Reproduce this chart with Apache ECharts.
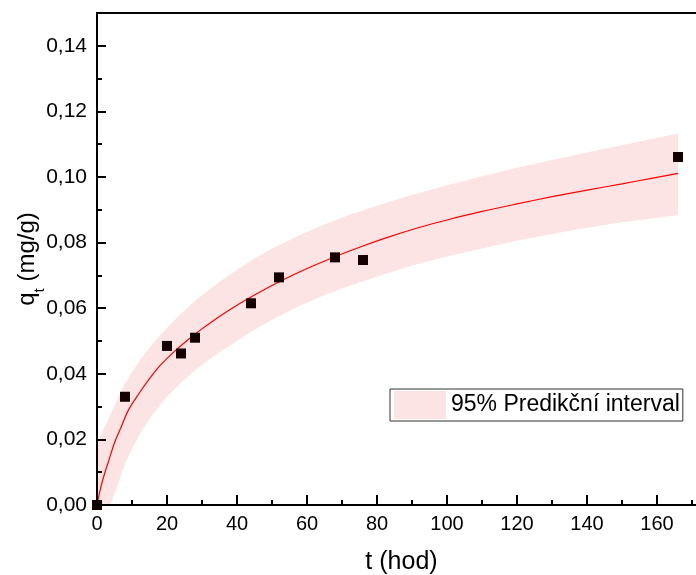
<!DOCTYPE html>
<html>
<head>
<meta charset="utf-8">
<script src="https://cdn.jsdelivr.net/npm/echarts@6/dist/echarts.min.js"></script>
<style>html,body{margin:0;padding:0;background:#fff;}#c{width:696px;height:575px;}</style>
</head>
<body>
<div id="c"></div>
<script>
// measured data points
const tData = [0, 8, 20, 24, 28, 44, 52, 68, 76, 166];
const qData = [0.0, 0.0330, 0.0485, 0.0462, 0.0510, 0.0615, 0.0694, 0.0755, 0.0747, 0.1061];

// fitted curve
const fitT = [0, 1, 2, 3.5, 5, 7, 9, 12, 15, 18, 22, 26, 30, 35, 40, 45, 50, 56, 62, 68, 75, 83, 92, 100, 110, 120, 130, 140, 150, 158, 166];
const fitQ = [0, 0.005, 0.009, 0.014, 0.019, 0.024, 0.029, 0.034, 0.0385, 0.0425, 0.0467, 0.0504, 0.0537, 0.0575, 0.0609, 0.064, 0.0669, 0.0701, 0.073, 0.0757, 0.0786, 0.0816, 0.0846, 0.0869, 0.0895, 0.0918, 0.0940, 0.0960, 0.0979, 0.0995, 0.1011];

// 95% prediction band
const bandT = [0, 2, 3.2, 4, 6, 8, 10, 13, 16, 20, 24, 28, 33, 38, 44, 50, 57, 64, 72, 81, 90, 100, 110, 120, 130, 140, 150, 158, 166];
const bandUpper = [0.0183, 0.0235, 0.026, 0.028, 0.0325, 0.037, 0.0405, 0.0452, 0.0492, 0.054, 0.0583, 0.0622, 0.0665, 0.0703, 0.0745, 0.0782, 0.0818, 0.0851, 0.0884, 0.0916, 0.0945, 0.0975, 0.1002, 0.1028, 0.1052, 0.1075, 0.1097, 0.1115, 0.1133];
const bandLower = [0, 0, 0, 0.0005, 0.0065, 0.0125, 0.0172, 0.023, 0.0278, 0.033, 0.0373, 0.0411, 0.0451, 0.0486, 0.0528, 0.0565, 0.0603, 0.0636, 0.0668, 0.0700, 0.0730, 0.0758, 0.0782, 0.0806, 0.0826, 0.0845, 0.0862, 0.0873, 0.0884];

// tick labels
const xTickLabels = ['0', '20', '40', '60', '80', '100', '120', '140', '160'];
const yTickLabels = ['0,00', '0,02', '0,04', '0,06', '0,08', '0,10', '0,12', '0,14'];

const bandName = '95% Predikční interval';
const bandColor = '#fde4e4';
const FONT = 'Liberation Sans, Arial, sans-serif';

const chart = echarts.init(document.getElementById('c'), null, {renderer: 'canvas'});

const scatterData = tData.map((t, i) => [t, qData[i]]);
const fitData = fitT.map((t, i) => [t, fitQ[i]]);

chart.setOption({
  animation: false,
  backgroundColor: '#fff',
  grid: {left: 97, top: 13, width: 609, height: 492, show: true, borderColor: '#000', borderWidth: 2,
    backgroundColor: 'transparent', containLabel: false, outerBoundsMode: 'none'},
  legend: {
    show: true,
    left: 390, top: 389,
    padding: [2, 3, 2, 4],
    itemWidth: 52, itemHeight: 28,
    borderColor: '#333', borderWidth: 1,
    backgroundColor: '#fff',
    data: [{name: bandName, icon: 'rect'}],
    textStyle: {fontSize: 23, color: '#000', fontFamily: FONT},
    selectedMode: false
  },
  xAxis: [{
    type: 'value', min: 0, max: 174, interval: 20, z: 10,
    name: 't (hod)', nameLocation: 'middle', nameGap: 45, nameMoveOverlap: false,
    nameTextStyle: {fontSize: 25, color: '#000', fontFamily: FONT},
    axisLine: {show: true, onZero: false, lineStyle: {color: '#000', width: 2}},
    axisTick: {show: true, inside: true, length: 10, lineStyle: {color: '#000', width: 2}},
    axisLabel: {color: '#000', fontSize: 20, fontFamily: FONT, margin: 9, showMaxLabel: false,
      formatter: v => { const i = Math.round(v / 20); return (Math.abs(v - i * 20) < 1e-6 && xTickLabels[i] !== undefined) ? xTickLabels[i] : ''; }},
    splitLine: {show: false}
  }, {
    type: 'value', min: 0, max: 174, interval: 10, z: 10, gridIndex: 0, position: 'bottom',
    axisLine: {show: false},
    axisTick: {show: true, inside: true, length: 5, lineStyle: {color: '#000', width: 2}},
    axisLabel: {show: false}, splitLine: {show: false}
  }],
  yAxis: [{
    type: 'value', min: 0, max: 0.15, interval: 0.02, z: 10,
    name: 'q{sub|t} (mg/g)', nameLocation: 'middle', nameGap: 58, nameMoveOverlap: false,
    nameTextStyle: {fontSize: 24, color: '#000', fontFamily: FONT,
      rich: {sub: {fontSize: 15, fontFamily: FONT, color: '#000', verticalAlign: 'bottom', padding: [0, 0, -8, 0]}}},
    axisLine: {show: true, onZero: false, lineStyle: {color: '#000', width: 2}},
    axisTick: {show: true, inside: true, length: 9, lineStyle: {color: '#000', width: 2}},
    axisLabel: {color: '#000', fontSize: 21, fontFamily: FONT, margin: 10, showMaxLabel: false,
      formatter: v => { const i = Math.round(v / 0.02); return (Math.abs(v - i * 0.02) < 1e-9 && yTickLabels[i] !== undefined) ? yTickLabels[i] : ''; }},
    splitLine: {show: false}
  }, {
    type: 'value', min: 0, max: 0.15, interval: 0.01, z: 10, position: 'left',
    axisLine: {show: false},
    axisTick: {show: true, inside: true, length: 5, lineStyle: {color: '#000', width: 2}},
    axisLabel: {show: false}, splitLine: {show: false}
  }],
  series: [{
    name: bandName,
    type: 'custom',
    z: 1,
    itemStyle: {color: bandColor},
    data: [[0, 0]],
    renderItem: function (params, api) {
      if (params.dataIndex > 0) return;
      const pts = [];
      for (let i = 0; i < bandT.length; i++) pts.push(api.coord([bandT[i], bandUpper[i]]));
      for (let i = bandT.length - 1; i >= 0; i--) pts.push(api.coord([bandT[i], bandLower[i]]));
      return {type: 'polygon', shape: {points: pts}, style: {fill: bandColor, stroke: null}};
    }
  }, {
    name: 'fit',
    type: 'line',
    z: 2,
    data: fitData,
    smooth: 0.3,
    showSymbol: false,
    lineStyle: {color: '#ff0000', width: 1.2},
    itemStyle: {color: '#ff0000'}
  }, {
    name: 'data',
    type: 'scatter',
    z: 3,
    data: scatterData,
    symbol: 'rect',
    symbolSize: 10,
    itemStyle: {color: '#140000', opacity: 1}
  }]
});
</script>
</body>
</html>
